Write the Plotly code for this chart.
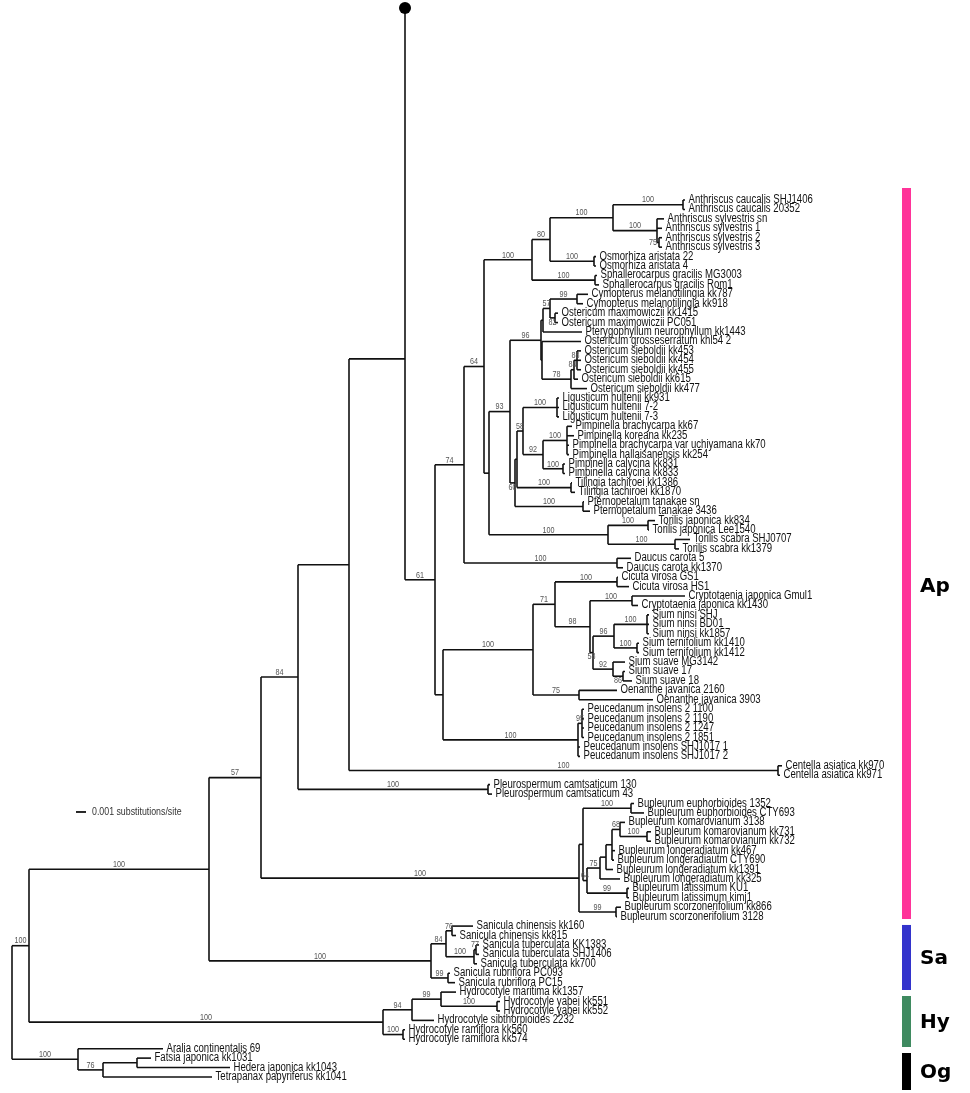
import plotly.graph_objects as go

# ---------------- Leaves (top to bottom) ----------------
LEAF_LABELS = [
    "Anthriscus caucalis SHJ1406", "Anthriscus caucalis 20352", "Anthriscus sylvestris sn",
    "Anthriscus sylvestris 1", "Anthriscus sylvestris 2", "Anthriscus sylvestris 3",
    "Osmorhiza aristata 22", "Osmorhiza aristata 4", "Sphallerocarpus gracilis MG3003",
    "Sphallerocarpus gracilis Rom1", "Cymopterus melanotilingia kk787", "Cymopterus melanotilingia kk918",
    "Ostericum maximowiczii kk1415", "Ostericum maximowiczii PC051", "Pterygophyllum neurophyllum kk1443",
    "Ostericum grosseserratum khl54 2", "Ostericum sieboldii kk453", "Ostericum sieboldii kk454",
    "Ostericum sieboldii kk455", "Ostericum sieboldii kk615", "Ostericum sieboldii kk477",
    "Ligusticum hultenii kk931", "Ligusticum hultenii 7-2", "Ligusticum hultenii 7-3",
    "Pimpinella brachycarpa kk67", "Pimpinella koreana kk235", "Pimpinella brachycarpa var uchiyamana kk70",
    "Pimpinella hallaisanensis kk254", "Pimpinella calycina kk831", "Pimpinella calycina kk833",
    "Tilingia tachiroei kk1386", "Tilingia tachiroei kk1870", "Pternopetalum tanakae sn",
    "Pternopetalum tanakae 3436", "Torilis japonica kk834", "Torilis japonica Lee1540",
    "Torilis scabra SHJ0707", "Torilis scabra kk1379", "Daucus carota 5", "Daucus carota kk1370",
    "Cicuta virosa GS1", "Cicuta virosa HS1", "Cryptotaenia japonica Gmul1",
    "Cryptotaenia japonica kk1430", "Sium ninsi SHJ", "Sium ninsi BD01", "Sium ninsi kk1857",
    "Sium ternifolium kk1410", "Sium ternifolium kk1412", "Sium suave MG3142", "Sium suave 17",
    "Sium suave 18", "Oenanthe javanica 2160", "Oenanthe javanica 3903",
    "Peucedanum insolens 2 1100", "Peucedanum insolens 2 1190", "Peucedanum insolens 2 1247",
    "Peucedanum insolens 2 1851", "Peucedanum insolens SHJ1017 1", "Peucedanum insolens SHJ1017 2",
    "Centella asiatica kk970", "Centella asiatica kk971", "Pleurospermum camtsaticum 130",
    "Pleurospermum camtsaticum 43", "Bupleurum euphorbioides 1352", "Bupleurum euphorbioides CTY693",
    "Bupleurum komarovianum 3138", "Bupleurum komarovianum kk731", "Bupleurum komarovianum kk732",
    "Bupleurum longeradiatum kk467", "Bupleurum longeradiautm CTY690", "Bupleurum longeradiatum kk1391",
    "Bupleurum longeradiatum kk325", "Bupleurum latissimum KU1", "Bupleurum latissimum kimj1",
    "Bupleurum scorzonerifolium kk866", "Bupleurum scorzonerifolium 3128", "Sanicula chinensis kk160",
    "Sanicula chinensis kk815", "Sanicula tuberculata KK1383", "Sanicula tuberculata SHJ1406",
    "Sanicula tuberculata kk700", "Sanicula rubriflora PC093", "Sanicula rubriflora PC15",
    "Hydrocotyle maritima kk1357", "Hydrocotyle yabei kk551", "Hydrocotyle yabei kk552",
    "Hydrocotyle sibthorpioides 2232", "Hydrocotyle ramiflora kk560", "Hydrocotyle ramiflora kk574",
    "Aralia continentalis 69", "Fatsia japonica kk1031", "Hedera japonica kk1043",
    "Tetrapanax papyriferus kk1041",
]
LEAF_PARENT = [
    "caucalis", "caucalis", "sylv", "sylv", "sylv23", "sylv23", "osmo", "osmo", "sphal", "sphal",
    "cymo", "cymo", "n82", "n82", "X", "Y", "n88", "n88", "n88", "n84o", "n78",
    "ligus", "ligus", "ligus", "pimp", "pimp", "pimp", "pimp", "calyc", "calyc",
    "tiling", "tiling", "ptern", "ptern", "tjap", "tjap", "tscab", "tscab", "daucus", "daucus",
    "cicuta", "cicuta", "crypto", "crypto", "ninsi", "ninsi", "ninsi", "ternif", "ternif",
    "n92s", "n86", "n86", "oenan", "oenan", "n95p", "n95p", "n95p", "n95p", "peuc", "peuc",
    "cent", "cent", "pleuro", "pleuro", "euph", "euph", "n68", "komar", "komar",
    "P", "P", "Q", "n75b", "latis", "latis", "scorz", "scorz",
    "s76", "s76", "s77", "s77", "s100", "s99", "s99",
    "h99", "hyab", "hyab", "h94", "hram", "hram",
    "og", "og137", "og137", "og103",
]
# distance from root, in 1e-4 substitutions/site
LEAF_DEPTH = [
    673, 673, 652, 650, 650, 650, 584, 584, 585, 587,
    576, 571, 546, 546, 570, 569, 569, 569, 569, 566, 575,
    547, 547, 547, 560, 562, 557, 557, 553, 553,
    560, 563, 572, 578, 643, 637, 678, 667, 619, 611,
    606, 617, 673, 626, 637, 637, 637, 627, 627,
    613, 613, 620, 605, 641, 572, 572, 572, 572, 568, 568,
    770, 768, 478, 480, 622, 632, 613, 639, 639,
    603, 602, 601, 608, 617, 617, 609, 605,
    461, 444, 467, 467, 465, 438, 443,
    444, 488, 488, 422, 393, 393,
    151, 139, 218, 200,
]

# ---------------- Internal nodes ----------------
NODE_NAMES = [
    "root", "n29", "og", "og103", "og137", "h", "h94", "h99", "hyab", "hram",
    "n209", "s", "s84", "s76", "s100", "s77", "s99",
    "n261", "n298", "pleuro", "bup", "n583", "euph", "n64b", "n75b", "Q", "P", "n68", "komar",
    "latis", "scorz", "n349", "cent", "n405", "n435", "n443", "n533", "n71", "cicuta", "n98",
    "crypto", "n58s", "n96s", "ninsi", "ternif", "n92s", "n86", "oenan", "peuc", "n95p",
    "n464", "daucus", "n484", "n532", "n80", "n613", "caucalis", "sylv", "sylv23", "osmo",
    "sphal", "n489", "torilis", "tjap", "tscab", "n510", "n541", "X", "n57c", "cymo", "n82",
    "Y", "n78", "n84o", "n88", "n516", "n518", "n58p", "ligus", "n92p", "pimp", "calyc",
    "tiling", "ptern",
]
NODE_PARENT = [
    None, "root", "root", "og", "og103", "n29", "h", "h94", "h99", "h",
    "n29", "n209", "s", "s84", "s84", "s100", "s",
    "n209", "n261", "n298", "n261", "bup", "n583", "n583", "n64b", "n75b", "Q", "P", "n68",
    "n64b", "bup", "n298", "n349", "n349", "n405", "n435", "n443", "n533", "n71", "n71",
    "n98", "n98", "n58s", "n96s", "n96s", "n58s", "n92s", "n533", "n443", "peuc",
    "n435", "n464", "n464", "n484", "n532", "n80", "n613", "n613", "sylv", "n80",
    "n532", "n484", "n489", "torilis", "torilis", "n489", "n510", "n541", "X", "n57c", "n57c",
    "n541", "Y", "n78", "n84o", "n510", "n516", "n518", "n58p", "n58p", "n92p", "n92p",
    "n518", "n516",
]
NODE_DEPTH = [
    0, 17, 66, 91, 125, 371, 400, 429, 485, 391,
    197, 419, 434, 440, 462, 464, 436,
    249, 286, 476, 567, 571, 619, 575, 588, 594, 600, 608, 635,
    615, 604, 337, 766, 393, 423, 431, 521, 543, 605, 578,
    620, 581, 602, 635, 625, 601, 611, 567, 566, 570,
    452, 605, 472, 520, 538, 601, 671, 645, 647, 582,
    583, 477, 596, 636, 663, 498, 529, 531, 538, 565, 543,
    530, 559, 562, 565, 503, 505, 511, 545, 531, 555, 551,
    559, 571,
]
NODE_SUPPORT = [
    "", "100", "100", "76", "", "100", "94", "99", "100", "100",
    "100", "100", "84", "76", "100", "77", "99",
    "57", "84", "100", "100", "", "100", "64", "75", "", "", "68", "100",
    "99", "99", "", "100", "", "61", "", "100", "71", "100", "98",
    "100", "58", "96", "100", "100", "92", "86", "75", "100", "95",
    "74", "100", "64", "100", "80", "100", "100", "100", "75", "100",
    "100", "", "100", "100", "100", "93", "96", "", "57", "99", "82",
    "", "78", "84", "88", "60", "", "58", "100", "92", "100", "100",
    "100", "100",
]
# support label placement: a = above branch, b = below branch, l = left of node
SUPPORT_POS = {"n82": "b", "n516": "b", "n58s": "b", "n86": "b", "sylv23": "l"}

# root marker (drawn above node n405) and that node's vertical slot
ROOT_MARK_NODE = "n405"
ROOT_MARK_SLOT = -20.35
NODE_SLOT_OVERRIDE = {"n405": 16.85}

# clade bars on the right (leaf slot ranges)
CLADE_NAMES = ["Ap", "Sa", "Hy", "Og"]
CLADE_COLORS = ["#FF3399", "#3333CC", "#3F8A60", "#000000"]
CLADE_FROM = [-1.27, 76.88, 84.41, 90.46]
CLADE_TO = [76.25, 83.78, 89.82, 94.38]
CLADE_LABEL_AT = [40.8, 80.3, 87.1, 92.4]

SCALE_LEN = 0.001
SCALE_TEXT = "0.001 substitutions/site"

# ---------------- layout computation ----------------
UNIT = 1e-4
depth = {}
parent = {}
children = {}
for n, p, d in zip(NODE_NAMES, NODE_PARENT, NODE_DEPTH):
    depth[n] = d * UNIT
    parent[n] = p
    if p is not None:
        children.setdefault(p, []).append(n)
leaf_ids = []
for i, (lab, p, d) in enumerate(zip(LEAF_LABELS, LEAF_PARENT, LEAF_DEPTH)):
    lid = "leaf%d" % i
    leaf_ids.append(lid)
    depth[lid] = d * UNIT
    parent[lid] = p
    children.setdefault(p, []).append(lid)

ypos = {lid: float(i) for i, lid in enumerate(leaf_ids)}


def get_y(n):
    if n in ypos:
        return ypos[n]
    cy = [get_y(c) for c in children[n]]
    if n in NODE_SLOT_OVERRIDE:
        y = NODE_SLOT_OVERRIDE[n]
    else:
        y = (min(cy) + max(cy)) / 2.0
    ypos[n] = y
    return y


get_y("root")

bx, by = [], []
for n, p in parent.items():
    if p is None:
        continue
    bx += [depth[p], depth[n], None]
    by += [ypos[n], ypos[n], None]
for n in NODE_NAMES:
    cy = [ypos[c] for c in children[n]] + [ypos[n]]
    if n == ROOT_MARK_NODE:
        cy.append(ROOT_MARK_SLOT)
    bx += [depth[n], depth[n], None]
    by += [min(cy), max(cy), None]

fig = go.Figure()
fig.add_trace(go.Scatter(x=bx, y=by, mode="lines", line=dict(color="#111111", width=1.6),
                         hoverinfo="skip", showlegend=False))
# root marker dot
fig.add_trace(go.Scatter(x=[depth[ROOT_MARK_NODE]], y=[ROOT_MARK_SLOT], mode="markers",
                         marker=dict(color="black", size=12), hoverinfo="skip", showlegend=False))

LABEL_FONT = "Liberation Sans, Arial, sans-serif"
LABEL_SHIFT = 0.00035
fig.add_trace(go.Scatter(
    x=[depth[l] + LABEL_SHIFT for l in leaf_ids], y=[ypos[l] for l in leaf_ids], mode="text",
    text=LEAF_LABELS, textposition="middle right",
    textfont=dict(family=LABEL_FONT, size=12, color="#111111"),
    hoverinfo="skip", showlegend=False))

# support values
groups = {"a": ([], [], []), "b": ([], [], []), "l": ([], [], [])}
for n, s in zip(NODE_NAMES, NODE_SUPPORT):
    if not s:
        continue
    pos = SUPPORT_POS.get(n, "a")
    p = parent[n]
    if pos == "l":
        x = depth[p]
    else:
        x = (depth[p] + depth[n]) / 2.0
    groups[pos][0].append(x)
    groups[pos][1].append(ypos[n])
    groups[pos][2].append(s)
tp = {"a": "top center", "b": "bottom center", "l": "middle left"}
for k, (gx, gy, gt) in groups.items():
    fig.add_trace(go.Scatter(x=gx, y=gy, text=gt, mode="text", textposition=tp[k],
                             textfont=dict(family=LABEL_FONT, size=9, color="#555555"),
                             hoverinfo="skip", showlegend=False))

# scale bar
SB_X, SB_Y = 0.0064, 64.9
fig.add_trace(go.Scatter(x=[SB_X, SB_X + SCALE_LEN], y=[SB_Y, SB_Y], mode="lines",
                         line=dict(color="#111111", width=1.8), hoverinfo="skip", showlegend=False))
fig.add_trace(go.Scatter(x=[SB_X + SCALE_LEN + 0.0006], y=[SB_Y], mode="text", text=[SCALE_TEXT],
                         textposition="middle right",
                         textfont=dict(family=LABEL_FONT, size=11, color="#333333"),
                         hoverinfo="skip", showlegend=False))

# clade bars
BAR_X0, BAR_X1 = 0.0890, 0.0899
for name, col, y0, y1, ly in zip(CLADE_NAMES, CLADE_COLORS, CLADE_FROM, CLADE_TO, CLADE_LABEL_AT):
    fig.add_shape(type="rect", x0=BAR_X0, x1=BAR_X1, y0=y0, y1=y1, fillcolor=col,
                  line=dict(width=0), layer="above")
    fig.add_annotation(x=0.0906, y=ly, text="<b>%s</b>" % name, showarrow=False, xanchor="left",
                       yanchor="middle", font=dict(family="DejaVu Sans", size=20, color="black"))

fig.update_layout(
    width=970, height=1093, margin=dict(l=0, r=0, t=0, b=0),
    plot_bgcolor="white", paper_bgcolor="white",
    xaxis=dict(range=[-0.0012, 0.0958], visible=False, fixedrange=True),
    yaxis=dict(range=[94.70, -21.21], visible=False, fixedrange=True),
)

# remove the page margin, narrow the label glyphs (condensed look of the original)
# and render the squeezed text in neutral grey tones
POST = """
document.body.style.margin = '0';
document.querySelectorAll('g.textpoint text').forEach(function (t) {
  var L = t.getComputedTextLength();
  if (L > 0) {
    t.setAttribute('textLength', (L * 0.8).toFixed(2));
    t.setAttribute('lengthAdjust', 'spacingAndGlyphs');
  }
});
document.querySelectorAll('g.scatterlayer g.text').forEach(function (g) {
  g.style.filter = 'grayscale(1)';
});
"""
fig.write_html("out.html", post_script=POST, config={"displayModeBar": False, "staticPlot": True})
